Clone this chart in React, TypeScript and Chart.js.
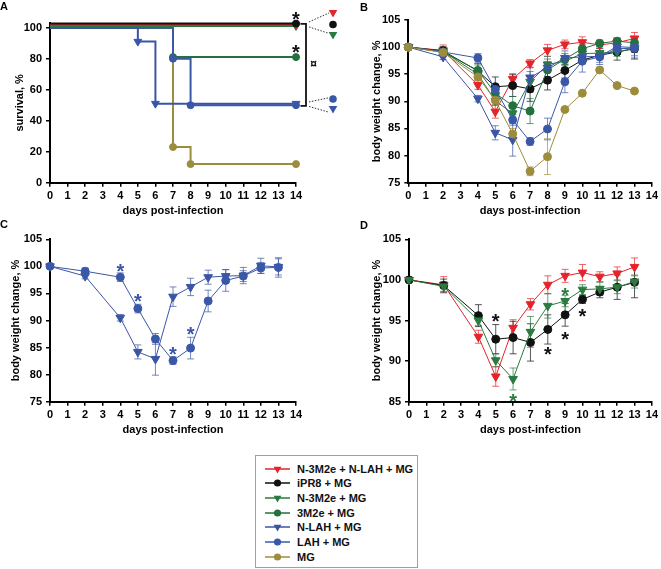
import React, { useEffect, useRef } from 'react';
import { Chart, registerables } from 'chart.js';

Chart.register(...registerables);

const FONT = '"Liberation Sans", Arial, Helvetica, sans-serif';
const TICK_FONT = { family: FONT, size: 11, weight: 'bold' as const };
const TITLE_FONT = { family: FONT, size: 11, weight: 'bold' as const };

// ---- series meta ----
const NAMES = ['N-3M2e + N-LAH + MG', 'iPR8 + MG', 'N-3M2e + MG', '3M2e + MG', 'N-LAH + MG', 'LAH + MG', 'MG'];
const COLORS = ['#e5232b', '#111111', '#2b7a40', '#25703f', '#3b55a6', '#3a58a8', '#9c8d3c'];
const SHAPES = ['tri', 'circle', 'tri', 'circle', 'tri', 'circle', 'circle'];

// ---- ticks ----
const X_TICKS = [0, 1, 2, 3, 4, 5, 6, 7, 8, 9, 10, 11, 12, 13, 14];
const SURV_TICKS = [0, 20, 40, 60, 80, 100];
const WEIGHT_TICKS = [75, 80, 85, 90, 95, 100, 105];
const WEIGHT_TICKS_D = [85, 90, 95, 100, 105];

// ---- panel A : survival (Kaplan-Meier steps, curves at 100 % drawn slightly offset) ----
const SURV_DAYS_RED = [0, 14];
const SURV_RED = [101.8, 101.8];
const SURV_DAYS_BLACK = [0, 14];
const SURV_BLACK = [102.6, 102.6];
const SURV_DAYS_GREENT = [0, 14];
const SURV_GREENT = [101.1, 101.1];
const SURV_DAYS_GREENC = [0, 7, 14];
const SURV_GREENC = [100, 81, 81];
const SURV_DAYS_BLUET = [0, 5, 6, 14];
const SURV_BLUET = [100, 91, 51, 51];
const SURV_DAYS_BLUEC = [0, 7, 8, 14];
const SURV_BLUEC = [100, 80, 50, 50];
const SURV_DAYS_OLIVE = [0, 7, 8, 14];
const SURV_OLIVE = [100, 23, 12, 12];
const SURV_STARS = [{ x: 14, y: 108.2 }, { x: 14, y: 86.8 }];
const BRACKET_TOP = 102.4;
const BRACKET_BOT = 49.5;

// ---- body weight (panels B, C, D) ----
const WEIGHT_DAYS = [0, 2, 4, 5, 6, 7, 8, 9, 10, 11, 12, 13];
const RED_W = [100, 99.4, 93.0, 88.1, 94.1, 97.0, 99.4, 100.5, 100.9, 100.4, 100.8, 101.6];
const RED_E = [0, 1.0, 0.8, 1.2, 1.0, 0.7, 1.1, 0.8, 1.0, 0.6, 0.8, 1.1];
const BLACK_W = [100, 99.3, 95.6, 92.7, 92.9, 92.3, 93.9, 95.7, 97.6, 98.5, 99.1, 99.7];
const BLACK_E = [0, 0.8, 1.35, 1.8, 2.0, 2.3, 1.8, 1.4, 0.5, 0.7, 1.5, 1.9];
const GREENT_W = [100, 99.2, 95.0, 90.1, 87.8, 93.6, 96.8, 97.4, 98.8, 98.9, 99.1, 99.8];
const GREENT_E = [0, 0.6, 0.6, 0.8, 1.35, 1.9, 1.5, 0.7, 0.6, 0.8, 0.8, 0.8];
const GREENC_W = [100, 99.1, 95.7, 91.5, 89.2, 88.2, 95.8, 97.8, 99.7, 100.7, 101.1, 100.8];
const GREENC_E = [0, 0.5, 1.0, 1.2, 1.7, 2.3, 1.5, 1.0, 0.8, 0.6, 0.6, 0.8];
const BLUET_W = [100, 98.2, 90.5, 84.2, 82.9, 94.4, 96.2, 98.0, 98.2, 98.3, 100.1, 99.9];
const BLUET_E = [0, 0.5, 0.6, 1.3, 3.0, 1.8, 1.6, 1.3, 1.2, 1.5, 1.4, 1.5];
const BLUEC_W = [100, 99.1, 98.0, 92.2, 86.6, 82.6, 84.9, 93.6, 97.4, 98.2, 99.7, 99.8];
const BLUEC_E = [0, 0.6, 0.8, 0.8, 1.0, 0.7, 2.0, 2.0, 2.0, 1.0, 1.0, 1.8];
const OLIVE_W = [100, 99.0, 94.5, 90.2, 84.0, 77.1, 79.8, 88.5, 91.5, 95.8, 92.9, 91.9];
const OLIVE_E = [0, 0.5, 0.7, 0.8, 1.0, 0.8, 3.3, 0, 0, 0, 0, 0];

// significance marks
const STARS_C = [
  { x: 4, y: 100.0, c: 4 },
  { x: 5, y: 94.45, c: 4 },
  { x: 7, y: 84.6, c: 4 },
  { x: 8, y: 88.2, c: 4 },
];
const STARS_D = [
  { x: 5, y: 95.5, c: 1 },
  { x: 6, y: 85.6, c: 2 },
  { x: 8, y: 91.4, c: 1 },
  { x: 9, y: 93.3, c: 1 },
  { x: 10, y: 96.1, c: 1 },
  { x: 9, y: 98.7, c: 2 },
];

function rgba(hex: string, a: number) {
  const n = parseInt(hex.slice(1), 16);
  return `rgba(${(n >> 16) & 255},${(n >> 8) & 255},${n & 255},${a})`;
}

function weightDataset(idx: number, values: number[], errors: number[], order: number) {
  const color = COLORS[idx];
  const tri = SHAPES[idx] === 'tri';
  return {
    label: NAMES[idx],
    data: WEIGHT_DAYS.map((d, j) => ({ x: d, y: values[j] })),
    errors,
    errColor: rgba(color, 0.7),
    borderColor: color,
    backgroundColor: color,
    borderWidth: 1,
    pointStyle: tri ? 'triangle' : 'circle',
    pointRotation: tri ? 180 : 0,
    pointRadius: tri ? 5 : 4,
    pointBorderWidth: 1,
    pointBackgroundColor: color,
    pointBorderColor: color,
    clip: false,
    order,
  };
}

function survDataset(idx: number, days: number[], values: number[], order: number) {
  const color = COLORS[idx];
  const tri = SHAPES[idx] === 'tri';
  return {
    label: NAMES[idx],
    data: days.map((d, j) => ({ x: d, y: values[j] })),
    stepped: 'before',
    borderColor: color,
    backgroundColor: color,
    borderWidth: 2,
    pointStyle: tri ? 'triangle' : 'circle',
    pointRotation: tri ? 180 : 0,
    pointRadius: days.map((_, j) => (j === 0 ? 0 : tri ? 4.5 : 3.5)),
    pointBorderWidth: 1,
    pointBackgroundColor: color,
    pointBorderColor: color,
    clip: false,
    order,
  };
}

const errorBarPlugin = {
  id: 'errbars',
  beforeDatasetsDraw(chart: any) {
    const ctx = chart.ctx;
    const xs = chart.scales.x;
    const ys = chart.scales.y;
    chart.data.datasets.forEach((ds: any) => {
      const errs = ds.errors;
      if (!errs) return;
      ctx.save();
      ctx.strokeStyle = ds.errColor;
      ctx.lineWidth = 1;
      ds.data.forEach((p: any, j: number) => {
        const e = errs[j];
        if (!e) return;
        const x = xs.getPixelForValue(p.x);
        const y1 = ys.getPixelForValue(p.y + e);
        const y2 = ys.getPixelForValue(p.y - e);
        ctx.beginPath();
        ctx.moveTo(x, y1);
        ctx.lineTo(x, y2);
        ctx.moveTo(x - 3.5, y1);
        ctx.lineTo(x + 3.5, y1);
        ctx.moveTo(x - 3.5, y2);
        ctx.lineTo(x + 3.5, y2);
        ctx.stroke();
      });
      ctx.restore();
    });
  },
};

function drawStar(ctx: any, x: number, y: number, color: string, size: number) {
  ctx.save();
  ctx.font = `bold ${size}px ${FONT}`;
  ctx.textAlign = 'center';
  ctx.textBaseline = 'alphabetic';
  ctx.fillStyle = color;
  ctx.fillText('*', x, y + 0.56 * size);
  ctx.restore();
}

function starsPlugin(stars: { x: number; y: number; c: number }[]) {
  return {
    id: 'stars',
    afterDatasetsDraw(chart: any) {
      const xs = chart.scales.x;
      const ys = chart.scales.y;
      stars.forEach((s) => drawStar(chart.ctx, xs.getPixelForValue(s.x), ys.getPixelForValue(s.y), COLORS[s.c], 20));
    },
  };
}

function drawTri(ctx: any, x: number, y: number, r: number, color: string) {
  ctx.fillStyle = color;
  ctx.beginPath();
  ctx.moveTo(x, y + r);
  ctx.lineTo(x - r * 0.866, y - r / 2);
  ctx.lineTo(x + r * 0.866, y - r / 2);
  ctx.closePath();
  ctx.fill();
}
function drawCircle(ctx: any, x: number, y: number, r: number, color: string) {
  ctx.fillStyle = color;
  ctx.beginPath();
  ctx.arc(x, y, r, 0, Math.PI * 2);
  ctx.fill();
}

const survAnnotPlugin = {
  id: 'survAnnot',
  afterDraw(chart: any) {
    const ctx = chart.ctx;
    const xs = chart.scales.x;
    const ys = chart.scales.y;
    const xe = xs.getPixelForValue(14);
    SURV_STARS.forEach((s) => drawStar(ctx, xs.getPixelForValue(s.x), ys.getPixelForValue(s.y), '#111', 20));
    const yT = ys.getPixelForValue(BRACKET_TOP);
    const yB = ys.getPixelForValue(BRACKET_BOT);
    ctx.save();
    ctx.strokeStyle = '#111';
    ctx.lineWidth = 1.8;
    ctx.beginPath();
    ctx.moveTo(xe + 4.5, yT);
    ctx.lineTo(xe + 10, yT);
    ctx.lineTo(xe + 10, yB);
    ctx.lineTo(xe + 4.5, yB);
    ctx.stroke();
    ctx.fillStyle = '#111';
    ctx.font = `bold 12px ${FONT}`;
    ctx.textAlign = 'center';
    ctx.textBaseline = 'middle';
    ctx.fillText('¤', xe + 17.5, (yT + yB) / 2);
    ctx.setLineDash([1.5, 1.5]);
    ctx.lineWidth = 1;
    ctx.strokeStyle = '#333';
    ctx.beginPath();
    ctx.moveTo(xe + 13, yT - 2);
    ctx.lineTo(xe + 33, yT - 11);
    ctx.moveTo(xe + 13, yT + 3);
    ctx.lineTo(xe + 33, yT + 9.5);
    ctx.moveTo(xe + 13, yB - 4);
    ctx.lineTo(xe + 32, yB - 8);
    ctx.moveTo(xe + 13, yB + 0.5);
    ctx.lineTo(xe + 32, yB + 6);
    ctx.stroke();
    ctx.setLineDash([]);
    const mx = xe + 37;
    drawTri(ctx, mx, yT - 11.5, 5, COLORS[0]);
    drawCircle(ctx, mx, yT + 0.5, 3.8, COLORS[1]);
    drawTri(ctx, mx, yT + 10.5, 5, COLORS[2]);
    drawCircle(ctx, mx, yB - 7, 3.8, COLORS[5]);
    drawTri(ctx, mx, yB + 2.5, 5, COLORS[4]);
    ctx.restore();
  },
};

function makeScales(o: any) {
  return {
    x: {
      type: 'linear',
      min: 0,
      max: 14,
      afterBuildTicks: (s: any) => {
        s.ticks = X_TICKS.map((v) => ({ value: v }));
      },
      afterFit: (s: any) => {
        s.height = o.xHeight;
      },
      grid: { display: true, drawOnChartArea: false, drawTicks: true, tickLength: 4, color: '#000', lineWidth: 1.5 },
      border: { display: true, color: '#000', width: 2 },
      ticks: { color: '#000', font: TICK_FONT, padding: 3, maxRotation: 0, autoSkip: false, callback: (v: any) => String(v) },
      title: { display: true, text: 'days post-infection', color: '#000', font: TITLE_FONT, padding: { top: 0, bottom: o.xTitlePad } },
    },
    y: {
      type: 'linear',
      min: o.yMin,
      max: o.yMax,
      afterBuildTicks: (s: any) => {
        s.ticks = o.yTicks.map((v: number) => ({ value: v }));
      },
      afterFit: (s: any) => {
        s.width = o.yWidth;
      },
      grid: { display: true, drawOnChartArea: false, drawTicks: true, tickLength: 4, color: '#000', lineWidth: 1.5 },
      border: { display: true, color: '#000', width: 2 },
      ticks: { color: '#000', font: TICK_FONT, padding: 4, callback: (v: any) => String(v) },
      title: { display: true, text: o.yTitle, color: '#000', font: TITLE_FONT, padding: { top: o.yTitlePad, bottom: 0 } },
    },
  };
}

function baseOptions(padding: any, scales: any) {
  return {
    responsive: false,
    animation: false,
    devicePixelRatio: 1,
    events: [],
    layout: { padding },
    plugins: { legend: { display: false }, tooltip: { enabled: false }, title: { display: false } },
    scales,
  };
}

function configA() {
  return {
    type: 'line',
    data: {
      datasets: [
        survDataset(6, SURV_DAYS_OLIVE, SURV_OLIVE, 6),
        survDataset(3, SURV_DAYS_GREENC, SURV_GREENC, 5),
        survDataset(5, SURV_DAYS_BLUEC, SURV_BLUEC, 4),
        survDataset(4, SURV_DAYS_BLUET, SURV_BLUET, 3),
        survDataset(2, SURV_DAYS_GREENT, SURV_GREENT, 2),
        survDataset(0, SURV_DAYS_RED, SURV_RED, 1),
        survDataset(1, SURV_DAYS_BLACK, SURV_BLACK, 0),
      ],
    },
    options: baseOptions(
      { left: 0, right: 49, top: 23, bottom: 0 },
      makeScales({ yMin: 0, yMax: 103, yTicks: SURV_TICKS, yTitle: 'survival, %', yWidth: 50, yTitlePad: 13.4, xHeight: 39.3, xTitlePad: 4.4 })
    ),
    plugins: [survAnnotPlugin],
  };
}

function configB() {
  return {
    type: 'line',
    data: {
      datasets: [
        weightDataset(0, RED_W, RED_E, 0),
        weightDataset(1, BLACK_W, BLACK_E, -1),
        weightDataset(2, GREENT_W, GREENT_E, -2),
        weightDataset(3, GREENC_W, GREENC_E, -3),
        weightDataset(4, BLUET_W, BLUET_E, -4),
        weightDataset(5, BLUEC_W, BLUEC_E, -5),
        weightDataset(6, OLIVE_W, OLIVE_E, -6),
      ],
    },
    options: baseOptions(
      { left: 0, right: 8, top: 20, bottom: 0 },
      makeScales({ yMin: 75, yMax: 105, yTicks: WEIGHT_TICKS, yTitle: 'body weight change, %', yWidth: 78.3, yTitlePad: 40.1, xHeight: 39.3, xTitlePad: 4.4 })
    ),
    plugins: [errorBarPlugin],
  };
}

function configC() {
  return {
    type: 'line',
    data: {
      datasets: [weightDataset(4, BLUET_W, BLUET_E, 0), weightDataset(5, BLUEC_W, BLUEC_E, -1)],
    },
    options: baseOptions(
      { left: 0, right: 34, top: 17.3, bottom: 0 },
      makeScales({ yMin: 75, yMax: 105, yTicks: WEIGHT_TICKS, yTitle: 'body weight change, %', yWidth: 50, yTitlePad: 9.1, xHeight: 38.3, xTitlePad: 3.4 })
    ),
    plugins: [errorBarPlugin, starsPlugin(STARS_C)],
  };
}

function configD() {
  return {
    type: 'line',
    data: {
      datasets: [
        weightDataset(0, RED_W, RED_E, 0),
        weightDataset(1, BLACK_W, BLACK_E, -1),
        weightDataset(2, GREENT_W, GREENT_E, -2),
      ],
    },
    options: baseOptions(
      { left: 0, right: 6, top: 17.3, bottom: 0 },
      makeScales({ yMin: 85, yMax: 105, yTicks: WEIGHT_TICKS_D, yTitle: 'body weight change, %', yWidth: 79, yTitlePad: 40, xHeight: 38.3, xTitlePad: 3.4 })
    ),
    plugins: [errorBarPlugin, starsPlugin(STARS_D)],
  };
}

function PanelChart({ left, top, width, height, config }: any) {
  const ref = useRef<HTMLCanvasElement | null>(null);
  useEffect(() => {
    const chart = new Chart(ref.current as any, config() as any);
    return () => chart.destroy();
  }, []);
  return (
    <div style={{ position: 'absolute', left, top, width, height }}>
      <canvas ref={ref} width={width} height={height} style={{ display: 'block', width, height }} />
    </div>
  );
}

function LegendMarker({ idx }: { idx: number }) {
  const color = COLORS[idx];
  const tri = SHAPES[idx] === 'tri';
  return (
    <svg width={30} height={12} style={{ position: 'absolute', left: 8, top: 1 }}>
      <line x1={1} y1={6} x2={26} y2={6} stroke={color} strokeWidth={1.5} />
      {tri ? (
        <polygon points={`${13.5},${10.5} ${9.6},${3.8} ${17.4},${3.8}`} fill={color} />
      ) : (
        <circle cx={13.5} cy={6} r={3.6} fill={color} />
      )}
    </svg>
  );
}

function PanelLetter({ text, left, top }: any) {
  return (
    <div style={{ position: 'absolute', left, top, font: `bold 11px ${FONT}`, lineHeight: '11px', color: '#000' }}>{text}</div>
  );
}

export default function App() {
  return (
    <div style={{ position: 'absolute', left: 0, top: 0, width: 661, height: 569, background: '#fff', overflow: 'hidden' }}>
      <PanelChart left={0} top={0} width={345} height={222} config={configA} />
      <PanelChart left={330} top={0} width={331} height={222} config={configB} />
      <PanelChart left={0} top={222} width={330} height={218} config={configC} />
      <PanelChart left={330} top={222} width={331} height={218} config={configD} />
      <PanelLetter text="A" left={0} top={1} />
      <PanelLetter text="B" left={360} top={1.5} />
      <PanelLetter text="C" left={0} top={219} />
      <PanelLetter text="D" left={360} top={220} />
      <div
        style={{
          position: 'absolute',
          left: 255,
          top: 455,
          width: 163,
          height: 113,
          border: '1px solid #a0a0a0',
          boxSizing: 'border-box',
          background: '#fff',
        }}
      >
        {NAMES.map((name, i) => (
          <div key={name} style={{ position: 'absolute', left: 0, top: 5.5 + i * 14.7, width: 160, height: 14.7 }}>
            <LegendMarker idx={i} />
            <span
              style={{
                position: 'absolute',
                left: 41,
                top: 0,
                font: `bold 11px ${FONT}`,
                lineHeight: '14.7px',
                color: '#111',
                whiteSpace: 'nowrap',
              }}
            >
              {name}
            </span>
          </div>
        ))}
      </div>
    </div>
  );
}
